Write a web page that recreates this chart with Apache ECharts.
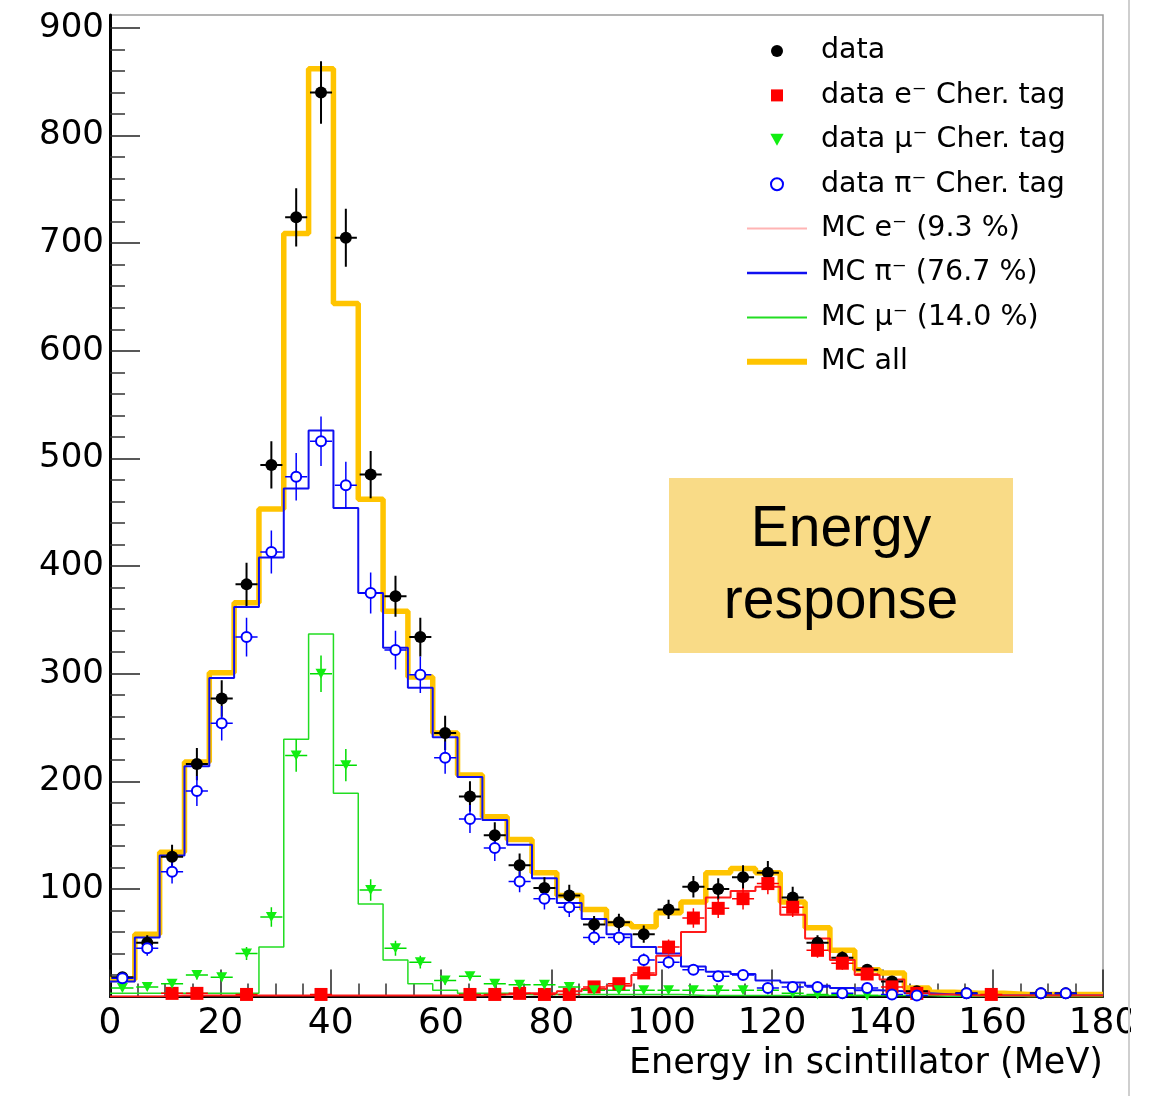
<!DOCTYPE html>
<html>
<head>
<meta charset="utf-8">
<script src="https://cdn.jsdelivr.net/npm/echarts@6/dist/echarts.min.js"></script>
<style>
html,body{margin:0;padding:0;background:#fff;}
#chart{width:1151px;height:1096px;}
</style>
</head>
<body>
<div id="chart"></div>
<script>
// ---- bins (MeV) ----
const binEdges = [0,4.5,9,13.5,18,22.5,27,31.5,36,40.5,45,49.5,54,58.5,63,67.5,72,76.5,81,85.5,90,94.5,99,103.5,108,112.5,117,121.5,126,130.5,135,139.5,144,148.5,153,157.5,162,166.5,171,175.5,180];

// ---- MC histograms (counts per bin) ----
const mcAll = [16,58,134,218,301,366,453,709,862,644,462,358,297,245,206,167,146,115,94,81,68,65,78,88,115,119,115,88,64,43,25,22,8,4,3,3,2,2,2,2];
const mcPi  = [14,55,131,214,296,362,408,472,526,454,375,324,287,241,204,164,141,110,87,72,58,46,40,28,23,21,15,13,10,8,6,5,3,2,1,1,1,1,1,1];
const mcMu  = [3,3,3,3,3,3,46,239,337,189,86,34,12,6,3,3,2,2,2,2,2,2,2,1,1,1,1,1,1,1,1,1,1,0,0,0,0,0,0,0];
const mcE   = [0,0,1,1,1,1,1,1,1,1,1,1,1,1,1,2,3,3,5,7,10,20,38,60,92,98,102,76,54,34,20,16,5,2,1,1,1,1,1,1];

// ---- data points (per bin) and their errors ----
const dataAll = [18,50,130,216,277,383,494,724,840,705,485,372,334,245,186,150,122,101,94,67,69,58,81,102,100,111,115,92,50,36,25,14,5,null,3,null,null,3,3,null];
const errAll  = [4,7,11,15,17,20,22,27,29,27,22,19,18,16,14,12,11,10,10,8,8,8,9,10,10,11,11,10,7,6,5,4,2,0,2,0,0,2,2,0];
const dataPi  = [17,45,116,191,254,334,413,483,516,475,375,322,299,222,165,138,107,91,83,55,55,34,32,25,19,20,8,9,9,3,8,2,1,null,3,null,null,3,3,null];
const errPi   = [4,7,11,14,16,18,20,22,23,22,19,18,17,15,13,12,10,10,9,7,7,6,6,5,4,4,3,3,3,2,3,1,1,0,2,0,0,2,2,0];
const dataMu  = [8,9,12,20,18,40,74,224,300,215,99,45,32,15,19,12,11,11,9,6,6,6,6,6,6,6,6,3,2,2,1,1,null,null,null,null,null,null,null,null];
const errMu   = [3,3,3,4,4,6,9,15,17,15,10,7,6,4,4,3,3,3,3,2,2,2,2,2,2,2,2,2,1,1,1,1,0,0,0,0,0,0,0,0];
const dataE   = [null,null,3,3,null,2,null,null,2,null,null,null,null,null,2,2,3,2,2,9,12,22,46,73,82,91,105,83,43,31,21,9,3,null,null,2,null,null,null,null];
const errE    = [0,0,2,2,0,1,0,0,1,0,0,0,0,0,1,1,2,1,1,3,3,5,7,9,9,10,10,9,7,6,5,3,2,0,0,1,0,0,0,0];

// ---- axis ticks ----
const yMajorTicks = [100,200,300,400,500,600,700,800,900];
const yMinorTicks = [20,40,60,80,120,140,160,180,220,240,260,280,320,340,360,380,420,440,460,480,520,540,560,580,620,640,660,680,720,740,760,780,820,840,860,880];

const names = {
  data: 'data',
  e: 'data e\u207B Cher. tag',
  mu: 'data \u00B5\u207B Cher. tag',
  pi: 'data \u03C0\u207B Cher. tag',
  mcE: 'MC e\u207B (9.3 %)',
  mcPi: 'MC \u03C0\u207B (76.7 %)',
  mcMu: 'MC \u00B5\u207B (14.0 %)',
  mcAll: 'MC all'
};

const centers = binEdges.slice(0, -1).map((lo, i) => (lo + binEdges[i + 1]) / 2);

function histData(vals) {
  const d = vals.map((v, i) => [binEdges[i], v]);
  d.push([binEdges[binEdges.length - 1], vals[vals.length - 1]]);
  return d;
}
function histSeries(name, vals, color, width, z) {
  return {
    name: name, type: 'line', step: 'end', data: histData(vals),
    symbol: 'none', showSymbol: false, z: z, animation: false,
    lineStyle: { color: color, width: width }, itemStyle: { color: color }
  };
}
function pointData(vals) {
  const d = [];
  vals.forEach((v, i) => { if (v !== null) d.push([centers[i], v]); });
  return d;
}
function errSeries(id, vals, errs, color, lw, hw, z) {
  const d = [];
  vals.forEach((v, i) => { if (v !== null) d.push([centers[i], v, errs[i]]); });
  return {
    id: id, type: 'custom', data: d, z: z, silent: true, animation: false, clip: true,
    renderItem: function (params, api) {
      const x = api.value(0), y = api.value(1), e = api.value(2);
      const p = api.coord([x, y]);
      const t = api.coord([x, y + e]);
      const b = api.coord([x, Math.max(0, y - e)]);
      const l = api.coord([x - hw, y]);
      const r = api.coord([x + hw, y]);
      return {
        type: 'group',
        children: [
          { type: 'line', shape: { x1: p[0], y1: t[1], x2: p[0], y2: b[1] }, style: { stroke: color, lineWidth: lw } },
          { type: 'line', shape: { x1: l[0], y1: p[1], x2: r[0], y2: p[1] }, style: { stroke: color, lineWidth: lw } }
        ]
      };
    }
  };
}

const triDown = 'path://M0,0L10,0L5,9Z';
const square = 'path://M0,0L10,0L10,10L0,10Z';
const FONT = 'DejaVu Sans';

const chart = echarts.init(document.getElementById('chart'), null, { renderer: 'canvas' });
chart.setOption({
  backgroundColor: '#ffffff',
  animation: false,
  grid: { left: 110, right: 48, top: 15, bottom: 99.4, outerBoundsMode: 'none', containLabel: false,
          show: true, borderColor: '#9a9a9a', borderWidth: 1.5, backgroundColor: 'transparent' },
  xAxis: {
    type: 'value', min: 0, max: 180, interval: 20,
    axisLine: { show: true, onZero: false, lineStyle: { color: '#000', width: 2 } },
    axisTick: { show: true, inside: true, length: 27, lineStyle: { color: '#222', width: 1.5 } },
    minorTick: { show: true, splitNumber: 4, length: 13, lineStyle: { color: '#333', width: 1.5 } },
    splitLine: { show: false },
    axisLabel: { fontFamily: FONT, fontSize: 36, color: '#000', margin: 9 },
    name: 'Energy in scintillator (MeV)',
    nameLocation: 'end', nameGap: 0,
    nameTextStyle: { fontFamily: FONT, fontSize: 35, color: '#000', align: 'right', verticalAlign: 'top', padding: [50, 0, 0, 0] }
  },
  yAxis: [{
    type: 'value', min: 0, max: 912,
    axisLine: { show: true, onZero: false, lineStyle: { color: '#000', width: 3 } },
    axisTick: { show: true, inside: true, length: 30, customValues: yMajorTicks, lineStyle: { color: '#222', width: 1.5 } },
    splitLine: { show: false },
    axisLabel: { fontFamily: FONT, fontSize: 34, color: '#000', margin: 6, customValues: yMajorTicks }
  }, {
    type: 'value', min: 0, max: 912, position: 'left',
    axisLine: { show: false },
    axisTick: { show: true, inside: true, length: 15, customValues: yMinorTicks, lineStyle: { color: '#333', width: 1.5 } },
    splitLine: { show: false },
    axisLabel: { show: false }
  }],
  legend: {
    orient: 'vertical', left: 742, top: 31,
    itemWidth: 60, itemHeight: 12, itemGap: 14.4,
    textStyle: { fontFamily: FONT, fontSize: 28.5, color: '#000', lineHeight: 30, padding: [0, 0, 0, 9] },
    data: [
      { name: names.data },
      { name: names.e },
      { name: names.mu },
      { name: names.pi },
      { name: names.mcE, icon: 'path://M0,0L60,0L60,2L0,2Z', itemStyle: { color: '#ffb4b4' } },
      { name: names.mcPi, icon: 'path://M0,0L60,0L60,2.5L0,2.5Z', itemStyle: { color: '#1010f0' } },
      { name: names.mcMu, icon: 'path://M0,0L60,0L60,2L0,2Z', itemStyle: { color: '#22dd22' } },
      { name: names.mcAll, icon: 'path://M0,0L60,0L60,6L0,6Z', itemStyle: { color: '#ffc400' } }
    ]
  },
  series: [
    histSeries(names.mcAll, mcAll, '#ffc400', 5.5, 2),
    histSeries(names.mcPi, mcPi, '#1010f0', 2, 3),
    histSeries(names.mcMu, mcMu, '#22dd22', 1.5, 3),
    histSeries(names.mcE, mcE, '#ff1a1a', 2, 3),
    errSeries('errAll', dataAll, errAll, '#000', 2, 2.0, 4),
    errSeries('errE', dataE, errE, '#ff0000', 1.5, 2.0, 4),
    errSeries('errMu', dataMu, errMu, '#00dd00', 1.5, 2.0, 4),
    errSeries('errPi', dataPi, errPi, '#0000ff', 1.5, 2.0, 4),
    { name: names.data, type: 'scatter', data: pointData(dataAll), symbol: 'circle', symbolSize: 12, z: 5,
      itemStyle: { color: '#000', opacity: 1 } },
    { name: names.e, type: 'scatter', data: pointData(dataE), symbol: square, symbolSize: 13, z: 6,
      itemStyle: { color: '#ff0000', opacity: 1 } },
    { name: names.mu, type: 'scatter', data: pointData(dataMu), symbol: triDown, symbolSize: [11, 10], z: 6,
      itemStyle: { color: '#11ee11', opacity: 1 } },
    { name: names.pi, type: 'scatter', data: pointData(dataPi), symbol: 'circle', symbolSize: 10, z: 7,
      itemStyle: { color: '#ffffff', borderColor: '#0000ff', borderWidth: 2, opacity: 1 } }
  ],
  graphic: [
    { type: 'group', left: 669, top: 478, z: 100, children: [
      { type: 'rect', shape: { x: 0, y: 0, width: 344, height: 175 }, style: { fill: '#f9db87' } },
      { type: 'text', x: 172, y: 88, style: { text: 'Energy\nresponse', fontFamily: 'Liberation Sans', fontSize: 57, lineHeight: 72, fill: '#000', align: 'center', verticalAlign: 'middle' } }
    ]},
    { type: 'rect', left: 1131, top: 0, z: 100, shape: { width: 20, height: 1096 }, style: { fill: '#ffffff' } },
    { type: 'rect', left: 1128, top: 0, z: 101, shape: { width: 2, height: 1096 }, style: { fill: '#cfcfcf' } }
  ]
});
</script>
</body>
</html>
